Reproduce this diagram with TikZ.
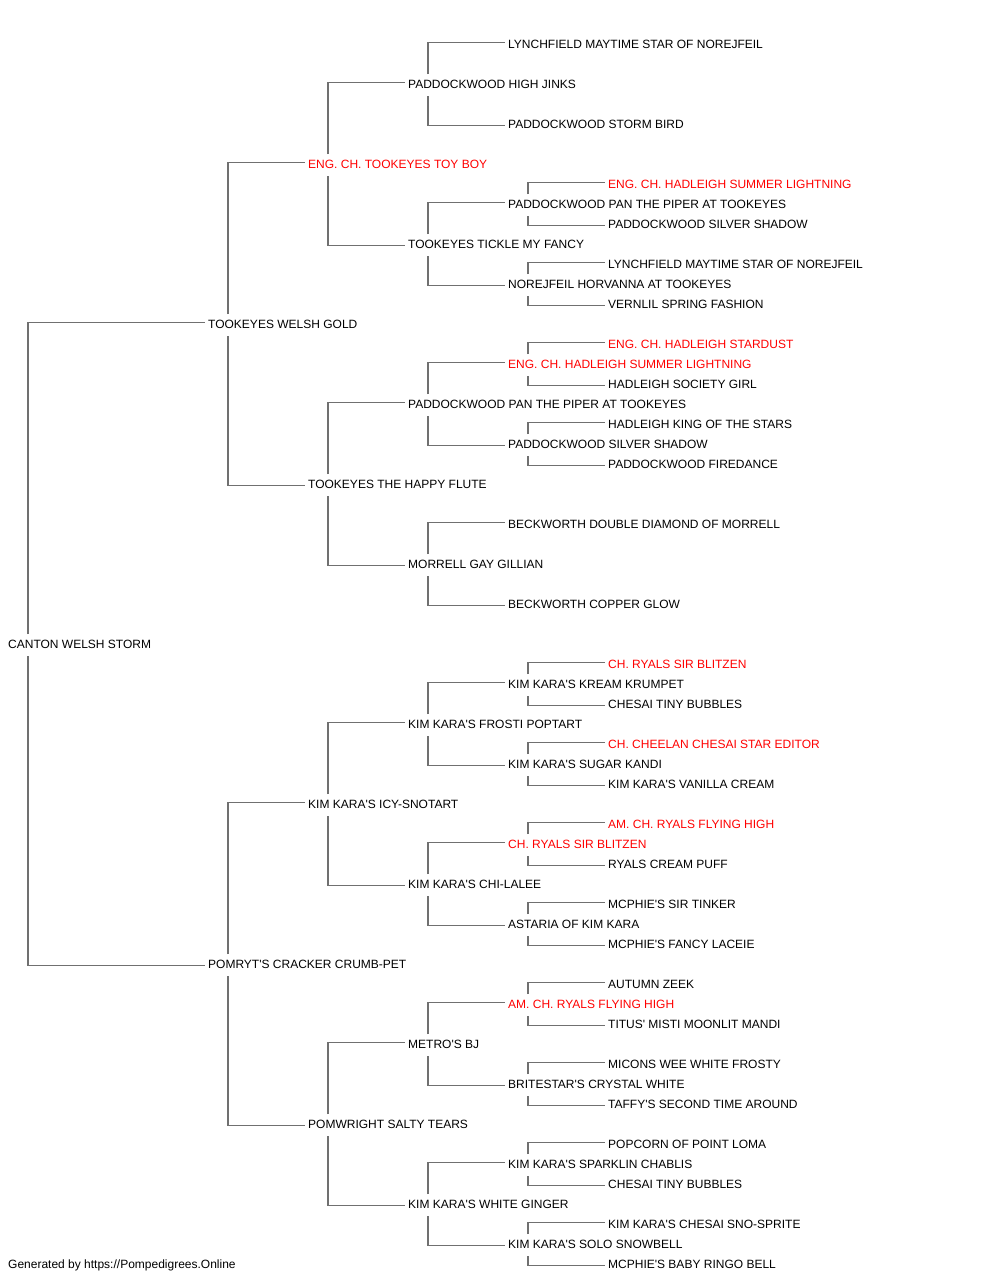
\documentclass[tikz,border=0pt]{standalone}
\usepackage{fontspec}
\newfontfamily\lsans{Liberation Sans}
\usetikzlibrary{calc}
\definecolor{linegray}{RGB}{112,112,112}
\definecolor{namered}{RGB}{255,0,0}
\newcommand\pedlink[3]{%
  \draw[conn] ($(#1.west)+(20,-10.5)$) |- ($(#2.west)+(-3,-2)$);
  \draw[conn] ($(#1.west)+(20,11.5)$) |- ($(#3.west)+(-3,1)$);
}
\begin{document}
\begin{tikzpicture}[x=1pt,y=-1pt,
  dog/.style={anchor=west,inner sep=0pt,text height=8.6pt,text depth=0pt,font=\lsans\fontsize{12}{14}\selectfont,text=black},
  champ/.style={dog,text=namered},
  conn/.style={draw=linegray,line width=1.8pt}]
\useasboundingbox[fill=white] (0,0) rectangle (1000,1280);
% generation 0
\node[dog] (r) at (8,644.5) {CANTON WELSH STORM};
% generation 1
\node[dog] (r0) at (208,324.5) {TOOKEYES WELSH GOLD};
\node[dog] (r1) at (208,964.5) {POMRYT'S CRACKER CRUMB-PET};
% generation 2
\node[champ] (r00) at (308,164.5) {ENG. CH. TOOKEYES TOY BOY};
\node[dog] (r01) at (308,484.5) {TOOKEYES THE HAPPY FLUTE};
\node[dog] (r10) at (308,804.5) {KIM KARA'S ICY-SNOTART};
\node[dog] (r11) at (308,1124.5) {POMWRIGHT SALTY TEARS};
% generation 3
\node[dog] (r000) at (408,84.5) {PADDOCKWOOD HIGH JINKS};
\node[dog] (r001) at (408,244.5) {TOOKEYES TICKLE MY FANCY};
\node[dog] (r010) at (408,404.5) {PADDOCKWOOD PAN THE PIPER AT TOOKEYES};
\node[dog] (r011) at (408,564.5) {MORRELL GAY GILLIAN};
\node[dog] (r100) at (408,724.5) {KIM KARA'S FROSTI POPTART};
\node[dog] (r101) at (408,884.5) {KIM KARA'S CHI-LALEE};
\node[dog] (r110) at (408,1044.5) {METRO'S BJ};
\node[dog] (r111) at (408,1204.5) {KIM KARA'S WHITE GINGER};
% generation 4
\node[dog] (r0000) at (508,44.5) {LYNCHFIELD MAYTIME STAR OF NOREJFEIL};
\node[dog] (r0001) at (508,124.5) {PADDOCKWOOD STORM BIRD};
\node[dog] (r0010) at (508,204.5) {PADDOCKWOOD PAN THE PIPER AT TOOKEYES};
\node[dog] (r0011) at (508,284.5) {NOREJFEIL HORVANNA AT TOOKEYES};
\node[champ] (r0100) at (508,364.5) {ENG. CH. HADLEIGH SUMMER LIGHTNING};
\node[dog] (r0101) at (508,444.5) {PADDOCKWOOD SILVER SHADOW};
\node[dog] (r0110) at (508,524.5) {BECKWORTH DOUBLE DIAMOND OF MORRELL};
\node[dog] (r0111) at (508,604.5) {BECKWORTH COPPER GLOW};
\node[dog] (r1000) at (508,684.5) {KIM KARA'S KREAM KRUMPET};
\node[dog] (r1001) at (508,764.5) {KIM KARA'S SUGAR KANDI};
\node[champ] (r1010) at (508,844.5) {CH. RYALS SIR BLITZEN};
\node[dog] (r1011) at (508,924.5) {ASTARIA OF KIM KARA};
\node[champ] (r1100) at (508,1004.5) {AM. CH. RYALS FLYING HIGH};
\node[dog] (r1101) at (508,1084.5) {BRITESTAR'S CRYSTAL WHITE};
\node[dog] (r1110) at (508,1164.5) {KIM KARA'S SPARKLIN CHABLIS};
\node[dog] (r1111) at (508,1244.5) {KIM KARA'S SOLO SNOWBELL};
% generation 5
\node[champ] (r00100) at (608,184.5) {ENG. CH. HADLEIGH SUMMER LIGHTNING};
\node[dog] (r00101) at (608,224.5) {PADDOCKWOOD SILVER SHADOW};
\node[dog] (r00110) at (608,264.5) {LYNCHFIELD MAYTIME STAR OF NOREJFEIL};
\node[dog] (r00111) at (608,304.5) {VERNLIL SPRING FASHION};
\node[champ] (r01000) at (608,344.5) {ENG. CH. HADLEIGH STARDUST};
\node[dog] (r01001) at (608,384.5) {HADLEIGH SOCIETY GIRL};
\node[dog] (r01010) at (608,424.5) {HADLEIGH KING OF THE STARS};
\node[dog] (r01011) at (608,464.5) {PADDOCKWOOD FIREDANCE};
\node[champ] (r10000) at (608,664.5) {CH. RYALS SIR BLITZEN};
\node[dog] (r10001) at (608,704.5) {CHESAI TINY BUBBLES};
\node[champ] (r10010) at (608,744.5) {CH. CHEELAN CHESAI STAR EDITOR};
\node[dog] (r10011) at (608,784.5) {KIM KARA'S VANILLA CREAM};
\node[champ] (r10100) at (608,824.5) {AM. CH. RYALS FLYING HIGH};
\node[dog] (r10101) at (608,864.5) {RYALS CREAM PUFF};
\node[dog] (r10110) at (608,904.5) {MCPHIE'S SIR TINKER};
\node[dog] (r10111) at (608,944.5) {MCPHIE'S FANCY LACEIE};
\node[dog] (r11000) at (608,984.5) {AUTUMN ZEEK};
\node[dog] (r11001) at (608,1024.5) {TITUS' MISTI MOONLIT MANDI};
\node[dog] (r11010) at (608,1064.5) {MICONS WEE WHITE FROSTY};
\node[dog] (r11011) at (608,1104.5) {TAFFY'S SECOND TIME AROUND};
\node[dog] (r11100) at (608,1144.5) {POPCORN OF POINT LOMA};
\node[dog] (r11101) at (608,1184.5) {CHESAI TINY BUBBLES};
\node[dog] (r11110) at (608,1224.5) {KIM KARA'S CHESAI SNO-SPRITE};
\node[dog] (r11111) at (608,1264.5) {MCPHIE'S BABY RINGO BELL};
% footer
\node[dog] (footer) at (8,1264.5) {Generated by https://Pompedigrees.Online};
% connectors
\pedlink{r}{r0}{r1}
\pedlink{r0}{r00}{r01}
\pedlink{r1}{r10}{r11}
\pedlink{r00}{r000}{r001}
\pedlink{r01}{r010}{r011}
\pedlink{r10}{r100}{r101}
\pedlink{r11}{r110}{r111}
\pedlink{r000}{r0000}{r0001}
\pedlink{r001}{r0010}{r0011}
\pedlink{r010}{r0100}{r0101}
\pedlink{r011}{r0110}{r0111}
\pedlink{r100}{r1000}{r1001}
\pedlink{r101}{r1010}{r1011}
\pedlink{r110}{r1100}{r1101}
\pedlink{r111}{r1110}{r1111}
\pedlink{r0010}{r00100}{r00101}
\pedlink{r0011}{r00110}{r00111}
\pedlink{r0100}{r01000}{r01001}
\pedlink{r0101}{r01010}{r01011}
\pedlink{r1000}{r10000}{r10001}
\pedlink{r1001}{r10010}{r10011}
\pedlink{r1010}{r10100}{r10101}
\pedlink{r1011}{r10110}{r10111}
\pedlink{r1100}{r11000}{r11001}
\pedlink{r1101}{r11010}{r11011}
\pedlink{r1110}{r11100}{r11101}
\pedlink{r1111}{r11110}{r11111}
\end{tikzpicture}
\end{document}
